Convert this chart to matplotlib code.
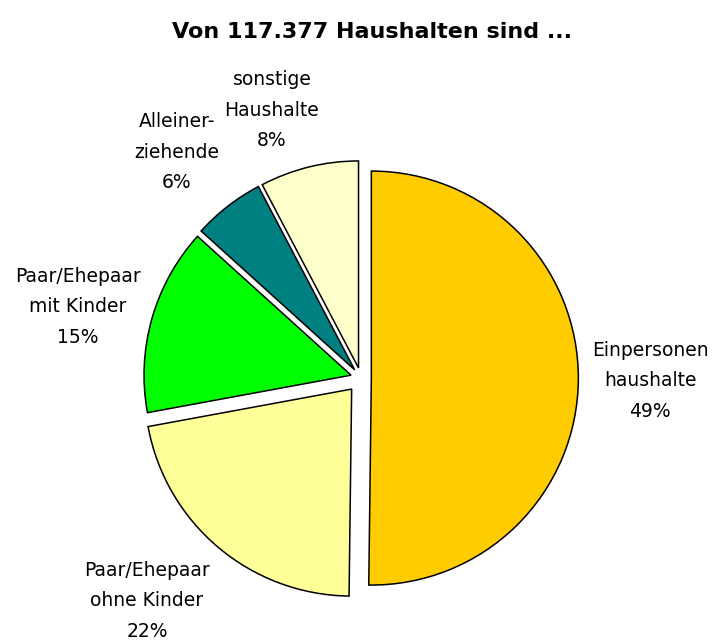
import matplotlib
matplotlib.use("Agg")
import matplotlib.pyplot as plt

# Data
categories = ["Einpersonen\nhaushalte", "Paar/Ehepaar\nohne Kinder", "Paar/Ehepaar\nmit Kinder",
              "Alleiner-\nziehende", "sonstige\nHaushalte"]
values = [50.2, 21.9, 14.6, 5.6, 7.7]          # wedge sizes
pct_labels = ["49%", "22%", "15%", "6%", "8%"]  # printed percentages
colors = ["#FFCC00", "#FFFF99", "#00FF00", "#008080", "#FFFFCC"]
explode_frac = [0.05, 0.07, 0.05, 0.05, 0.05]

W, H = 713, 642
fig = plt.figure(figsize=(W / 100, H / 100), dpi=100)
ax = fig.add_axes([0, 0, 1, 1])
plt.rcParams['font.family'] = ['DejaVu Sans']

cx, cy, R = 361, H - 378, 207
wedges, _ = ax.pie(values, colors=colors, explode=[e * R for e in explode_frac],
                   startangle=90, counterclock=False,
                   radius=R, center=(cx, cy), frame=True,
                   wedgeprops=dict(edgecolor="black", linewidth=1.1))
ax.set_xlim(0, W)
ax.set_ylim(0, H)
ax.set_aspect('equal')
ax.axis('off')

# label block centres (image pixel coords)
label_pos = [(650, 381), (147, 601), (78, 307), (177, 152), (272, 110)]
for cat, pct, (lx, ly) in zip(categories, pct_labels, label_pos):
    ax.text(lx, H - ly, f"{cat}\n{pct}", ha="center", va="center", fontsize=13.5,
            linespacing=1.75, color="black")

ax.text(372, H - 32, "Von 117.377 Haushalten sind ...", ha="center", va="center",
        fontsize=16, fontweight="bold")

fig.savefig("out.png", dpi=100)
